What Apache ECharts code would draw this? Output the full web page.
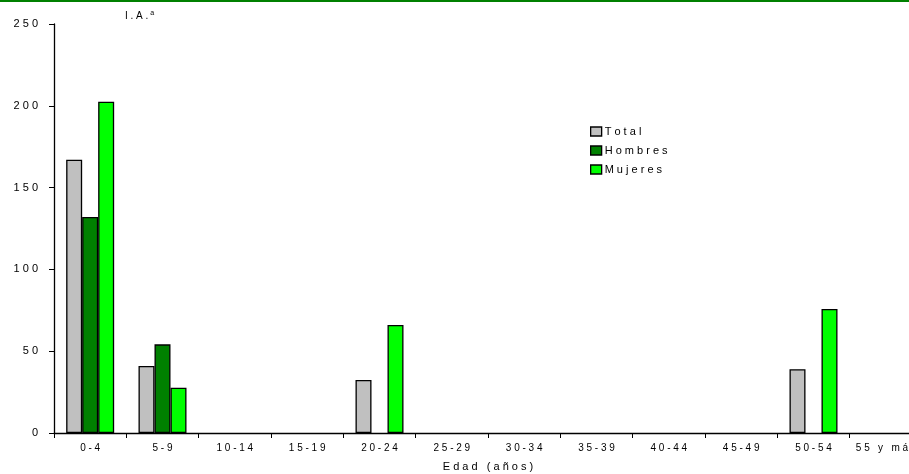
<!DOCTYPE html>
<html>
<head>
<meta charset="utf-8">
<script src="https://cdn.jsdelivr.net/npm/echarts@6/dist/echarts.min.js"></script>
<style>html,body{margin:0;padding:0;background:#fff}#c{width:909px;height:474px}</style>
</head>
<body>
<div id="c"></div>
<script>
const categories = ["0-4","5-9","10-14","15-19","20-24","25-29","30-34","35-39","40-44","45-49","50-54","55 y más"];
const total   = [167, 41, 0, 0, 32.4, 0, 0, 0, 0, 0, 39, 0];
const hombres = [132, 54.2, 0, 0, 0, 0, 0, 0, 0, 0, 0, 0];
const mujeres = [202.5, 27.7, 0, 0, 66, 0, 0, 0, 0, 0, 75.8, 0];
const yTicks = [0, 50, 100, 150, 200, 250];
const seriesNames = ["Total", "Hombres", "Mujeres"];
const colors = ["#c0c0c0", "#008000", "#00ff00"];

const sp = s => s.split('').join(' ');
const font = "'Liberation Sans', Arial, sans-serif";

const chart = echarts.init(document.getElementById('c'), null, {renderer: 'canvas'});
const mk = (name, data, color) => ({
  name, type: 'bar', data: data.map(v => v === 0 ? null : v),
  barWidth: 16, barGap: '0%',
  itemStyle: {color, borderColor: '#000', borderWidth: 1.3},
  animation: false
});
chart.setOption({
  animation: false,
  grid: {left: 54, right: -13, top: 24, bottom: 41, containLabel: false, outerBoundsMode: 'none'},
  legend: {
    orient: 'vertical', left: 585, top: 121,
    itemWidth: 11, itemHeight: 9, itemGap: 8,
    icon: 'rect',
    itemStyle: {borderColor: '#000', borderWidth: 1.3},
    textStyle: {fontFamily: font, fontSize: 11, color: '#000', padding: [0,0,0,-2]},
    formatter: n => sp(n),
    data: seriesNames
  },
  xAxis: {
    type: 'category', data: categories,
    boundaryGap: true,
    axisLine: {lineStyle: {color: '#000', width: 1.3}},
    axisTick: {show: true, length: 5, lineStyle: {color: '#000'}},
    axisLabel: {fontFamily: font, fontSize: 10, color: '#000', margin: 10, interval: 0, formatter: v => sp(v)},
    name: sp('Edad (años)'), nameLocation: 'middle', nameGap: 28,
    nameTextStyle: {fontFamily: font, fontSize: 11, color: '#000'}
  },
  yAxis: {
    type: 'value', min: 0, max: 250, interval: 50,
    axisLine: {show: true, lineStyle: {color: '#000', width: 1.3}},
    axisTick: {show: true, length: 5, lineStyle: {color: '#000'}},
    splitLine: {show: false},
    axisLabel: {fontFamily: font, fontSize: 11, color: '#000', margin: 16,
      formatter: v => yTicks.includes(v) ? sp(String(v)) : ''}
  },
  graphic: [
    {type: 'rect', shape: {x: 0, y: 0, width: 909, height: 2}, style: {fill: '#008000'}},
    {type: 'text', left: 125, top: 10, style: {
      text: '{m|' + sp('I.A.') + '}{s|a}',
      rich: {m: {fontFamily: font, fontSize: 10, fill: '#000'},
             s: {fontFamily: font, fontSize: 7, fill: '#000', verticalAlign: 'top', padding: [0,0,6,2]}}
    }}
  ],
  series: [mk(seriesNames[0], total, colors[0]), mk(seriesNames[1], hombres, colors[1]), mk(seriesNames[2], mujeres, colors[2])]
});
</script>
</body>
</html>
